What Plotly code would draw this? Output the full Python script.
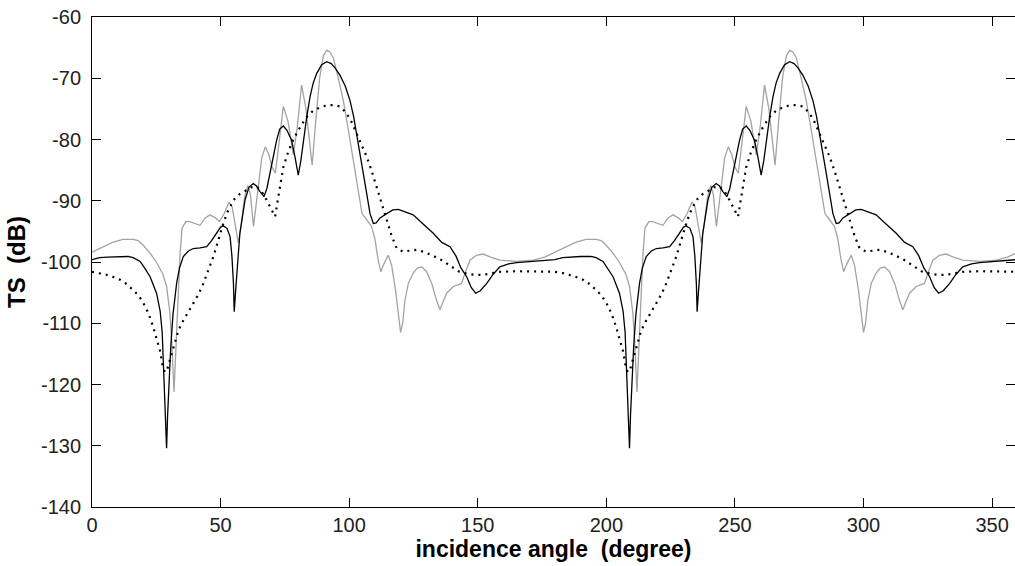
import plotly.graph_objects as go

# ---------------- data ----------------
gray_angle = [0, 4, 8, 12, 16, 18, 20, 22.5, 25, 27.6, 29, 30.3, 31, 31.9, 32.6, 33.3, 34.2, 35, 36.5, 38,
              40, 42, 44, 45.9, 48, 49.6, 51.5, 53.3, 54.5, 55.8, 56.9, 58, 59.3, 60.6, 61.6, 62.8, 64.5, 66, 67.4, 68.8,
              70, 71.3, 72.6, 74.4, 76.2, 78.3, 79.8, 81.5, 83.2, 85.6, 87, 88.5, 90, 91.3, 92.5, 93.8, 95.5, 97.7, 99.5, 101.6,
              103.5, 105, 106.8, 108.7, 110, 111.2, 112.3, 113.5, 115.2, 116.5, 118, 119.2, 120, 120.8, 121.7, 123, 124.9, 126.5, 128.2, 130,
              132.1, 134, 135.3, 136.5, 137.9, 140.5, 143.7, 145.3, 147, 149.5, 152.1, 155, 158.6, 165.1, 171.6, 176,
              180, 184, 188, 192, 196, 198, 200, 202.5, 205, 207.6, 209, 210.3, 211, 211.9, 212.6, 213.3, 214.2, 215, 216.5, 218,
              220, 222, 224, 225.9, 228, 229.6, 231.5, 233.3, 234.5, 235.8, 236.9, 238, 239.3, 240.6, 241.6, 242.8, 244.5, 246, 247.4, 248.8,
              250, 251.3, 252.6, 254.4, 256.2, 258.3, 259.8, 261.5, 263.2, 265.6, 267, 268.5, 270, 271.3, 272.5, 273.8, 275.5, 277.7, 279.5, 281.6,
              283.5, 285, 286.8, 288.7, 290, 291.2, 292.3, 293.5, 295.2, 296.5, 298, 299.2, 300, 300.8, 301.7, 303, 304.9, 306.5, 308.2, 310,
              312.1, 314, 315.3, 316.5, 317.9, 320.5, 323.7, 325.3, 327, 329.5, 332.1, 335, 338.6, 345.1, 351.6, 356, 360]
gray_ts = [-98.4, -97.6, -96.8, -96.3, -96.3, -96.5, -97.3, -98.5, -100, -102, -104, -108.3, -113, -121.2, -115, -107, -99, -94.5, -93.4, -93.4,
           -93.7, -94, -92.8, -92.3, -92.8, -93.4, -92, -90.2, -91, -94.5, -96.9, -94, -89.5, -87.5, -89, -94.2, -88.5, -83, -81.2, -82.5,
           -84.5, -85.5, -81, -74.6, -77, -82.5, -78, -71.1, -75, -84.2, -77, -70, -66.3, -65.4, -65.7, -66.6, -69.5, -73.6, -78, -83.3,
           -88.5, -92.1, -93.1, -94.2, -96.2, -99.5, -101.6, -100.3, -98.9, -100.5, -104.5, -109, -111.5, -110, -106.2, -103.5, -101.8, -101, -100.8, -101.5,
           -103.5, -106.3, -107.8, -106.5, -105.1, -104, -103.5, -101.5, -99.7, -98.9, -98.7, -99.2, -99.7, -99.9, -99.7, -99.2,
           -98.4, -97.6, -96.8, -96.3, -96.3, -96.5, -97.3, -98.5, -100, -102, -104, -108.3, -113, -121.2, -115, -107, -99, -94.5, -93.4, -93.4,
           -93.7, -94, -92.8, -92.3, -92.8, -93.4, -92, -90.2, -91, -94.5, -96.9, -94, -89.5, -87.5, -89, -94.2, -88.5, -83, -81.2, -82.5,
           -84.5, -85.5, -81, -74.6, -77, -82.5, -78, -71.1, -75, -84.2, -77, -70, -66.3, -65.4, -65.7, -66.6, -69.5, -73.6, -78, -83.3,
           -88.5, -92.1, -93.1, -94.2, -96.2, -99.5, -101.6, -100.3, -98.9, -100.5, -104.5, -109, -111.5, -110, -106.2, -103.5, -101.8, -101, -100.8, -101.5,
           -103.5, -106.3, -107.8, -106.5, -105.1, -104, -103.5, -101.5, -99.7, -98.9, -98.7, -99.2, -99.7, -99.9, -99.7, -99.2, -98.4]

black_angle = [0, 3, 6, 10, 14, 16, 18.7, 20.5, 22.6, 25.1, 26.5, 27.3, 28, 28.6, 29, 29.4, 30, 30.6, 31.5, 32.9,
               34, 35.5, 37.5, 39.4, 42, 44.6, 46.5, 48.5, 50, 51, 52.5, 53.7, 54.4, 55, 55.3, 55.8, 56.5, 57.5, 59.5, 61,
               62.7, 64, 65.3, 66.9, 68, 69.2, 70.5, 71.8, 73, 74.4, 75.8, 77.6, 79, 80.2, 81.2, 82.2, 83.5, 84.8, 86, 87.4,
               89.3, 91.3, 93, 94.5, 96.4, 98.5, 100.3, 101.7, 102.9, 104.2, 105.5, 106.8, 108.1, 109.4, 110.5, 112, 114.6, 117, 119.1, 122,
               124.9, 128, 132.7, 136, 139.2, 141.5, 143.5, 145.7, 147.5, 149.2, 151, 153.5, 156, 158.6, 162, 165.1, 171.6, 176,
               180, 183, 186, 190, 194, 196, 198.7, 200.5, 202.6, 205.1, 206.5, 207.3, 208, 208.6, 209, 209.4, 210, 210.6, 211.5, 212.9,
               214, 215.5, 217.5, 219.4, 222, 224.6, 226.5, 228.5, 230, 231, 232.5, 233.7, 234.4, 235, 235.3, 235.8, 236.5, 237.5, 239.5, 241,
               242.7, 244, 245.3, 246.9, 248, 249.2, 250.5, 251.8, 253, 254.4, 255.8, 257.6, 259, 260.2, 261.2, 262.2, 263.5, 264.8, 266, 267.4,
               269.3, 271.3, 273, 274.5, 276.4, 278.5, 280.3, 281.7, 282.9, 284.2, 285.5, 286.8, 288.1, 289.4, 290.5, 292, 294.6, 297, 299.1, 302,
               304.9, 308, 312.7, 316, 319.2, 321.5, 323.5, 325.7, 327.5, 329.2, 331, 333.5, 336, 338.6, 342, 345.1, 351.6, 356, 360]
black_ts = [-99.6, -99.3, -99.2, -99.1, -99.1, -99.3, -99.9, -101, -102.4, -105.1, -108, -111.5, -119.3, -125, -130.4, -125, -119.3, -114, -108.5, -103.5,
            -101, -99.1, -98.2, -97.8, -97.7, -97.5, -96.5, -95.3, -94.3, -94.1, -94.5, -95.9, -99, -103.5, -108.1, -105, -100.5, -95.3, -89.9, -87.8,
            -87.2, -87.6, -88.5, -89.3, -88, -85.5, -82.5, -80.1, -78.3, -77.8, -78.5, -80.1, -83, -85.8, -83.5, -80.1, -76.3, -73, -70.8, -69.2,
            -67.8, -67.3, -67.6, -68.3, -69.5, -71.3, -73.6, -76.2, -79, -82.2, -85.5, -88.8, -92.1, -93.7, -93.6, -92.8, -92.1, -91.5, -91.4, -91.8,
            -92.3, -93.5, -95.3, -96.8, -97.5, -99, -101, -102.4, -104.2, -105.1, -104.7, -103.5, -102, -100.8, -100.3, -100.1, -99.9, -99.7,
            -99.6, -99.3, -99.2, -99.1, -99.1, -99.3, -99.9, -101, -102.4, -105.1, -108, -111.5, -119.3, -125, -130.4, -125, -119.3, -114, -108.5, -103.5,
            -101, -99.1, -98.2, -97.8, -97.7, -97.5, -96.5, -95.3, -94.3, -94.1, -94.5, -95.9, -99, -103.5, -108.1, -105, -100.5, -95.3, -89.9, -87.8,
            -87.2, -87.6, -88.5, -89.3, -88, -85.5, -82.5, -80.1, -78.3, -77.8, -78.5, -80.1, -83, -85.8, -83.5, -80.1, -76.3, -73, -70.8, -69.2,
            -67.8, -67.3, -67.6, -68.3, -69.5, -71.3, -73.6, -76.2, -79, -82.2, -85.5, -88.8, -92.1, -93.7, -93.6, -92.8, -92.1, -91.5, -91.4, -91.8,
            -92.3, -93.5, -95.3, -96.8, -97.5, -99, -101, -102.4, -104.2, -105.1, -104.7, -103.5, -102, -100.8, -100.3, -100.1, -99.9, -99.7, -99.6]

dotted_angle = [0, 3, 5.7, 8, 10.9, 13.5, 16.1, 18, 20, 22, 23.8, 25.2, 26.4, 27.5, 28.3, 29.2, 30.3, 31.2, 32.3, 33.5,
                34.9, 37, 39.4, 41.5, 43.3, 45.3, 47.2, 48.5, 49.8, 51, 52.4, 53.7, 55, 57.5, 60.1, 62, 64, 66, 67.9, 69.5,
                71.2, 72.2, 73.1, 74.4, 76.3, 78.3, 80.9, 83.5, 86, 88.5, 91.3, 94, 96.4, 99, 101, 102.9, 104.8, 106.8, 108.8, 110.7,
                112.6, 114.6, 116.5, 118.5, 121, 126.2, 129.5, 132.7, 136, 139.2, 142.5, 145.7, 149, 152.1, 155.5, 158.6, 165, 171.6, 176,
                180, 183, 185.7, 188, 190.9, 193.5, 196.1, 198, 200, 202, 203.8, 205.2, 206.4, 207.5, 208.3, 209.2, 210.3, 211.2, 212.3, 213.5,
                214.9, 217, 219.4, 221.5, 223.3, 225.3, 227.2, 228.5, 229.8, 231, 232.4, 233.7, 235, 237.5, 240.1, 242, 244, 246, 247.9, 249.5,
                251.2, 252.2, 253.1, 254.4, 256.3, 258.3, 260.9, 263.5, 266, 268.5, 271.3, 274, 276.4, 279, 281, 282.9, 284.8, 286.8, 288.8, 290.7,
                292.6, 294.6, 296.5, 298.5, 301, 306.2, 309.5, 312.7, 316, 319.2, 322.5, 325.7, 329, 332.1, 335.5, 338.6, 345, 351.6, 356, 360]
dotted_ts = [-101.6, -101.8, -102.1, -102.4, -102.9, -103.6, -104.6, -105.4, -106.7, -108.4, -110.6, -112.5, -114.4, -117, -118, -117.6, -116, -114.3, -112.7, -111.3,
             -110, -108.4, -106.7, -105.2, -103.5, -101.4, -99.1, -97.3, -95.3, -93.8, -92.1, -91, -89.9, -88.9, -88.2, -87.8, -87.7, -88.5, -89.9, -91.3,
             -92.6, -90, -88, -84.5, -82, -80, -78, -76.3, -75.3, -74.8, -74.4, -74.4, -74.6, -75.7, -77.2, -79, -80.8, -82.8, -85.2, -87.7,
             -90.4, -93.1, -95.7, -97.8, -98.3, -98, -98.4, -99, -99.7, -100.6, -101.5, -101.9, -102.1, -102.1, -101.9, -101.6, -101.5, -101.5, -101.5,
             -101.6, -101.8, -102.1, -102.4, -102.9, -103.6, -104.6, -105.4, -106.7, -108.4, -110.6, -112.5, -114.4, -117, -118, -117.6, -116, -114.3, -112.7, -111.3,
             -110, -108.4, -106.7, -105.2, -103.5, -101.4, -99.1, -97.3, -95.3, -93.8, -92.1, -91, -89.9, -88.9, -88.2, -87.8, -87.7, -88.5, -89.9, -91.3,
             -92.6, -90, -88, -84.5, -82, -80, -78, -76.3, -75.3, -74.8, -74.4, -74.4, -74.6, -75.7, -77.2, -79, -80.8, -82.8, -85.2, -87.7,
             -90.4, -93.1, -95.7, -97.8, -98.3, -98, -98.4, -99, -99.7, -100.6, -101.5, -101.9, -102.1, -102.1, -101.9, -101.6, -101.5, -101.5, -101.5, -101.6]

x_ticks = [0, 50, 100, 150, 200, 250, 300, 350]
x_tick_labels = ["0", "50", "100", "150", "200", "250", "300", "350"]
y_ticks = [-140, -130, -120, -110, -100, -90, -80, -70, -60]
y_tick_labels = ["-140", "-130", "-120", "-110", "-100", "-90", "-80", "-70", "-60"]

FONT = "Liberation Sans, Arial, Helvetica, sans-serif"

fig = go.Figure()
fig.add_trace(go.Scatter(x=gray_angle, y=gray_ts, mode="lines",
                         line=dict(color="#a3a3a3", width=1.3), showlegend=False))
fig.add_trace(go.Scatter(x=dotted_angle, y=dotted_ts, mode="lines",
                         line=dict(color="black", width=2.2, dash="2px,5px"), showlegend=False))
fig.add_trace(go.Scatter(x=black_angle, y=black_ts, mode="lines",
                         line=dict(color="black", width=1.3), showlegend=False))
# invisible trace so the right-hand tick axis (ticks only, no line) is drawn
fig.add_trace(go.Scatter(x=[None], y=[None], yaxis="y2", mode="lines",
                         showlegend=False, hoverinfo="skip"))

tick_font = dict(family=FONT, size=20, color="#222222")

fig.update_layout(
    width=1015, height=566, margin=dict(l=92, r=0, t=17, b=59),
    paper_bgcolor="white", plot_bgcolor="white", showlegend=False,
    xaxis=dict(range=[0, 358.9], tickmode="array", tickvals=x_ticks, ticktext=x_tick_labels,
               showgrid=False, zeroline=False, showline=True, linecolor="black", linewidth=1,
               mirror="ticks", ticks="inside", ticklen=9, tickcolor="black", tickwidth=1,
               tickfont=tick_font,
               title=dict(text="<b>incidence angle\u00a0\u00a0(degree)</b>",
                          font=dict(family=FONT, size=23, color="black"), standoff=4)),
    yaxis=dict(range=[-140, -60], tickmode="array", tickvals=y_ticks, ticktext=y_tick_labels,
               showgrid=False, zeroline=False, showline=True, linecolor="black", linewidth=1,
               mirror=False, ticks="inside", ticklen=9, tickcolor="black", tickwidth=1,
               tickfont=tick_font, ticklabelstandoff=6,
               title=dict(text="<b>TS\u00a0\u00a0(dB)</b>",
                          font=dict(family=FONT, size=24, color="black"), standoff=8)),
    yaxis2=dict(range=[-140, -60], overlaying="y", side="right", tickmode="array", tickvals=y_ticks,
                showticklabels=False, showgrid=False, zeroline=False, showline=False,
                ticks="inside", ticklen=9, tickcolor="black", tickwidth=1),
)

fig.write_html("out.html")
